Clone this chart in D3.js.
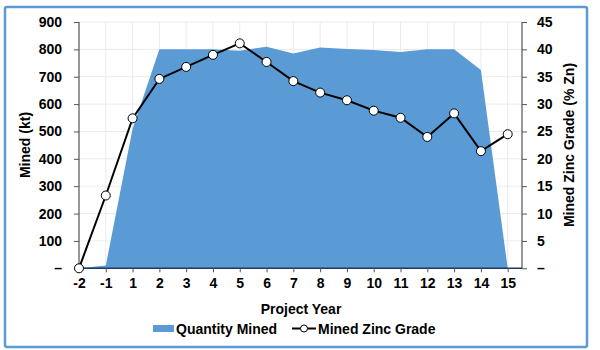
<!DOCTYPE html>
<html><head><meta charset="utf-8">
<script src="https://cdn.jsdelivr.net/npm/d3@7"></script>
<style>body{margin:0;background:#fff}svg{display:block}text{font-family:Arial,"Liberation Sans",sans-serif;font-weight:bold;fill:#000}</style>
</head><body><svg id="c" width="600" height="350"></svg>
<script>
const years = ["-2","-1","1","2","3","4","5","6","7","8","9","10","11","12","13","14","15"];
const quantityMined = [0,10,510,800,800,800,795,810,785,807,801,798,790,800,800,725,0];
const zincGrade = [0,13.3,27.4,34.6,36.8,39.0,41.1,37.7,34.2,32.1,30.7,28.8,27.5,24.0,28.3,21.4,24.5];
const leftTicks = [0,100,200,300,400,500,600,700,800,900];
const rightTicks = [0,5,10,15,20,25,30,35,40,45];

const svg = d3.select("#c");
const L=79, R=522, T=22, B=268.3;
svg.append("rect").attr("x",5).attr("y",7).attr("width",582).attr("height",340)
  .attr("fill","#fff").attr("stroke","#5b9bd5").attr("stroke-width",2.5).attr("rx",2);

const x = d3.scalePoint().domain(years).range([79,507.7]);
const y = d3.scaleLinear().domain([0,900]).range([B,T]);
const y2 = d3.scaleLinear().domain([0,45]).range([B,T]);

// gridlines
const g = svg.append("g");
g.selectAll("line.h").data(leftTicks.slice(1)).join("line")
  .attr("x1",L).attr("x2",R).attr("y1",d=>y(d)).attr("y2",d=>y(d)).attr("stroke","#ebebeb");
g.selectAll("line.v").data(years.slice(1)).join("line")
  .attr("x1",d=>x(d)).attr("x2",d=>x(d)).attr("y1",T).attr("y2",B).attr("stroke","#ebebeb");

// area
const area = d3.area().x((d,i)=>x(years[i])).y0(B).y1(d=>y(d));
svg.append("path").datum(quantityMined).attr("d",area).attr("fill","#5b9bd5");

// axes
const fmtL = d=> d===0 ? "–" : d;
const ax = svg.append("g").attr("transform",`translate(${L},0)`)
  .call(d3.axisLeft(y).tickValues(leftTicks).tickFormat(fmtL).tickSize(5).tickPadding(12));
const ax2 = svg.append("g").attr("transform",`translate(${R},0)`)
  .call(d3.axisRight(y2).tickValues(rightTicks).tickFormat(fmtL).tickSize(5).tickPadding(10));
const axb = svg.append("g").attr("transform",`translate(0,${B})`)
  .call(d3.axisBottom(x).tickSize(4).tickPadding(6));
[ax,ax2,axb].forEach(a=>{a.selectAll("text").style("font-size","14px").style("font-weight","bold").attr("fill","#000");
  a.selectAll(".domain").attr("stroke","#333");a.selectAll(".tick line").attr("stroke","#555");});
ax.select(".domain").attr("d",`M0,${T}V${B}`);
ax2.select(".domain").attr("d",`M0,${T}V${B}`);
axb.select(".domain").attr("d",`M${L},0H${R}`).attr("stroke","#1f3864").attr("stroke-width",1.5);

// line
const line = d3.line().x((d,i)=>x(years[i])).y(d=>y2(d));
svg.append("path").datum(zincGrade).attr("d",line).attr("fill","none").attr("stroke","#000").attr("stroke-width",2);
svg.selectAll("circle.m").data(zincGrade).join("circle")
  .attr("cx",(d,i)=>x(years[i])).attr("cy",d=>y2(d)).attr("r",4.5)
  .attr("fill","#fff").attr("stroke","#000").attr("stroke-width",1);

// titles
svg.append("text").attr("transform","translate(30,145) rotate(-90)").attr("text-anchor","middle")
  .style("font-size","14px").text("Mined (kt)");
svg.append("text").attr("transform","translate(574,145) rotate(-90)").attr("text-anchor","middle")
  .style("font-size","14px").text("Mined Zinc Grade (% Zn)");
svg.append("text").attr("x",301).attr("y",314).attr("text-anchor","middle")
  .style("font-size","14px").text("Project Year");

// legend
svg.append("rect").attr("x",153).attr("y",325).attr("width",21).attr("height",7).attr("fill","#5b9bd5");
svg.append("text").attr("x",176).attr("y",334).style("font-size","14px").text("Quantity Mined");
svg.append("line").attr("x1",292).attr("x2",316).attr("y1",328.5).attr("y2",328.5).attr("stroke","#000").attr("stroke-width",2);
svg.append("circle").attr("cx",304).attr("cy",328.5).attr("r",3.5).attr("fill","#fff").attr("stroke","#000");
svg.append("text").attr("x",318).attr("y",334).style("font-size","14px").text("Mined Zinc Grade");
</script></body></html>
